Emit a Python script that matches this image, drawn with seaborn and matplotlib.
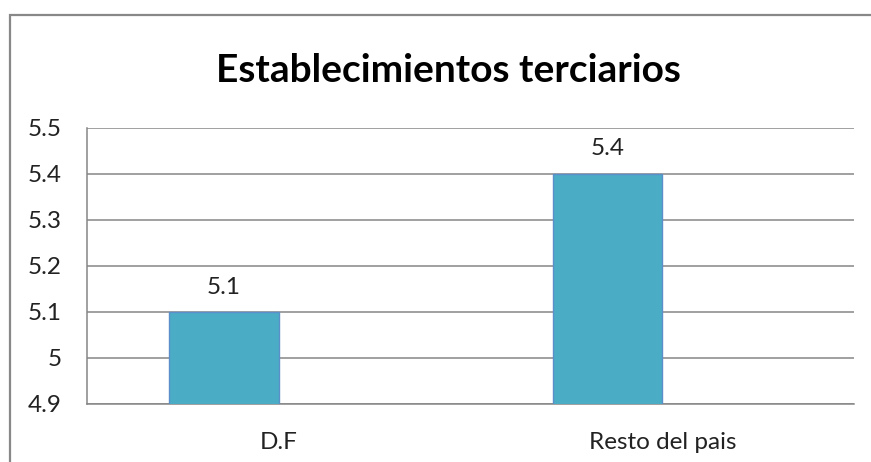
import matplotlib
matplotlib.use("Agg")
import matplotlib.pyplot as plt
import seaborn as sns
import pandas as pd
from matplotlib.patches import Rectangle

categories = ["D.F", "Resto del pais"]
values = [5.1, 5.4]
series_order = ["Serie 1", "Serie 2"]
yticks = [4.9, 5.0, 5.1, 5.2, 5.3, 5.4, 5.5]
ytick_labels = ["4.9", "5", "5.1", "5.2", "5.3", "5.4", "5.5"]
title = "Establecimientos terciarios"

sns.set_theme(style="white")
plt.rcParams["font.family"] = ["Lato", "DejaVu Sans"]

df = pd.DataFrame({"cat": categories, "val": values, "serie": [series_order[0]] * len(categories)})

fig = plt.figure(figsize=(8.71, 4.62), dpi=100)
ax = fig.add_axes([87 / 871, 1 - 404 / 462, (854 - 87) / 871, (404 - 128) / 462])

sns.barplot(data=df, x="cat", y="val", hue="serie", hue_order=series_order,
            order=categories, palette=["#4BACC6", "#4BACC6"], width=0.572,
            dodge=True, errorbar=None, legend=False, ax=ax,
            edgecolor="#5B8FC9", linewidth=1.0, zorder=3, saturation=1)

ax.set_ylim(4.9, 5.5)
ax.set_xlim(-0.5, len(categories) - 0.5)
ax.set_yticks(yticks)
ax.set_yticklabels(ytick_labels)
ax.set_xlabel("")
ax.set_ylabel("")

grid_c = "#868686"
ax.yaxis.grid(True, color=grid_c, linewidth=1.1, zorder=0)
ax.set_axisbelow(True)
for s in ["top", "right"]:
    ax.spines[s].set_visible(False)
for s in ["left", "bottom"]:
    ax.spines[s].set_color(grid_c)
    ax.spines[s].set_linewidth(1.1)
ax.tick_params(axis="y", length=0, pad=18, labelsize=17.5, labelcolor="#222222")
ax.tick_params(axis="x", length=0, pad=20, labelsize=17.5, labelcolor="#222222")

for cont in ax.containers:
    for bar in cont:
        h = bar.get_height()
        if h == h and h > 0:
            ax.annotate(f"{h:.1f}", (bar.get_x() + bar.get_width() / 2, h),
                        xytext=(0, 18), textcoords="offset points",
                        ha="center", va="center", fontsize=17.5, color="#222222")

fig.text(448 / 871, 1 - 70 / 462, title, ha="center", va="center",
         fontsize=28, fontweight="bold", color="black")

fig.patches.append(Rectangle((10 / 871, -0.2), 1.2, 1.2 - 15 / 462 + 0.0,
                             transform=fig.transFigure, fill=False,
                             edgecolor="#888888", linewidth=1.6))

fig.savefig("out.png", dpi=100, facecolor="white")
